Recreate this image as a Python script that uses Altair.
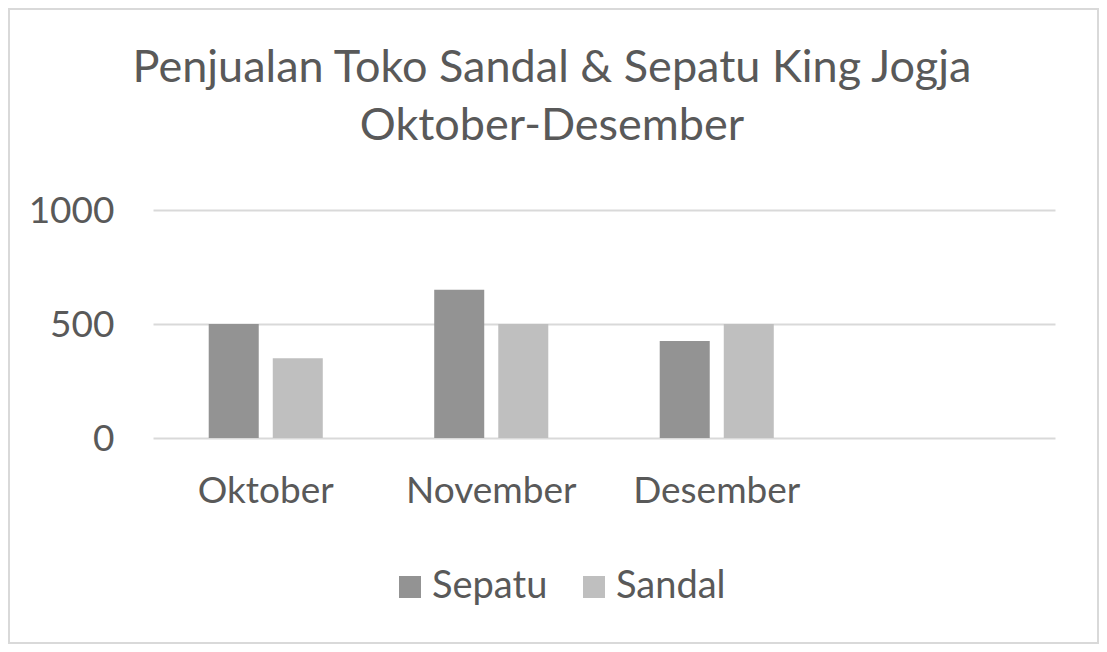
import altair as alt
import pandas as pd

months = ["Oktober", "November", "Desember"]
series = ["Sepatu", "Sandal"]
sepatu = [500, 650, 425]
sandal = [350, 500, 500]
slots = months + [""]
title_lines = ["Penjualan Toko Sandal & Sepatu King Jogja", "Oktober-Desember"]

rows = []
for i, m in enumerate(months):
    rows.append({"Bulan": m, "Produk": "Sepatu", "Penjualan": sepatu[i]})
    rows.append({"Bulan": m, "Produk": "Sandal", "Penjualan": sandal[i]})
df = pd.DataFrame(rows)

FONT = "Lato"
TXT = "#595959"

bars = alt.Chart(df).mark_bar().encode(
    x=alt.X(
        "Bulan:N",
        sort=slots,
        scale=alt.Scale(domain=slots, paddingInner=0, paddingOuter=0),
        axis=alt.Axis(
            title=None, ticks=False, tickSize=0, domain=False, grid=False,
            labelAngle=0, labelFontSize=37, labelColor=TXT, labelFont=FONT,
            labelPadding=64, labelBaseline="alphabetic",
        ),
    ),
    xOffset=alt.XOffset(
        "Produk:N", sort=series,
        scale=alt.Scale(domain=series, paddingInner=0.219, paddingOuter=0.87),
    ),
    y=alt.Y(
        "Penjualan:Q",
        scale=alt.Scale(domain=[0, 1000], nice=False),
        axis=alt.Axis(
            values=[0, 500, 1000], format="d", title=None, ticks=False, domain=False,
            gridColor="#d9d9d9", gridWidth=2,
            labelFontSize=37, labelColor=TXT, labelFont=FONT,
            labelPadding=39, labelBaseline="alphabetic", labelOffset=12,
        ),
    ),
    color=alt.Color(
        "Produk:N",
        sort=series,
        scale=alt.Scale(domain=series, range=["#939393", "#bfbfbf"]),
        legend=alt.Legend(
            title=None, orient="none", legendX=238, legendY=358,
            direction="horizontal", symbolType="square", symbolSize=484,
            symbolStrokeWidth=0, labelFontSize=38, labelFont=FONT,
            labelColor=TXT, labelOffset=3, columnPadding=27, padding=0,
        ),
    ),
)

frame = alt.Chart(alt.Data(values=[{"k": 1}])).mark_rect(
    fill=None, stroke="#d9d9d9", strokeWidth=2
).encode(
    x=alt.value(-144), x2=alt.value(945), y=alt.value(-201), y2=alt.value(433)
)

chart = alt.layer(frame, bars).properties(
    width=902,
    height=228,
    background="white",
    padding={"left": 145, "top": 202, "right": 44, "bottom": 206},
    autosize=alt.AutoSizeParams(type="none"),
    title=alt.TitleParams(
        text=title_lines, fontSize=45, font=FONT, color=TXT, fontWeight="normal",
        lineHeight=58, anchor="middle", frame="group", dx=-52, offset=-177,
        baseline="alphabetic",
    ),
).configure_view(strokeWidth=0, stroke="transparent")

chart.save("out.html", embed_options={"renderer": "svg", "actions": False})
